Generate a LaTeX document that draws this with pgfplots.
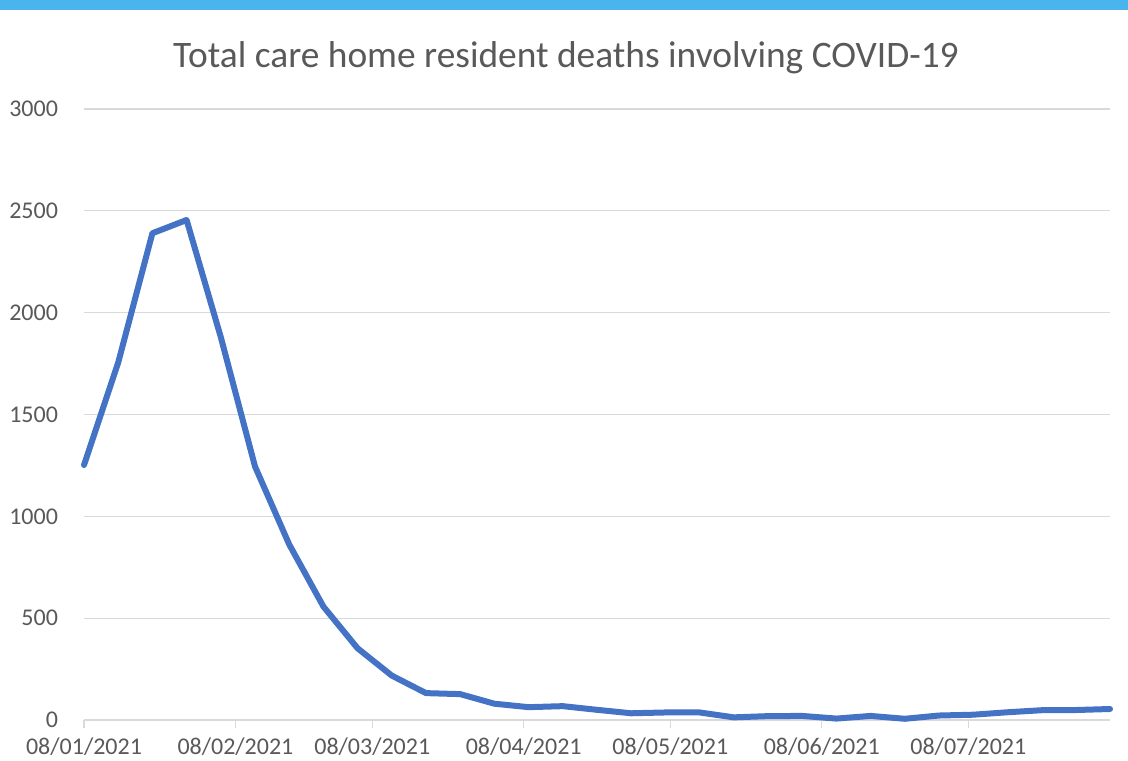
\documentclass[border=0pt]{standalone}
\usepackage{fontspec}
\setmainfont{Carlito}
\usepackage{pgfplots}
\pgfplotsset{compat=1.18}
\definecolor{band}{HTML}{4AB4EE}
\definecolor{txt}{HTML}{595959}
\definecolor{gridc}{HTML}{D9D9D9}
\definecolor{linec}{HTML}{4472C4}
\begin{document}
\begin{tikzpicture}
\useasboundingbox (0,0) rectangle (564pt,380pt);
\fill[band] (0,375pt) rectangle (564pt,380pt);
\node[text=txt, font=\fontsize{18.7}{22}\selectfont] at (283pt,351pt) {Total care home resident deaths involving COVID-19};
\begin{axis}[
  at={(42pt,20pt)}, anchor=origin,
  scale only axis, width=513pt, height=305.5pt,
  xmin=0, xmax=210, ymin=0, ymax=3000,
  xtick={0,31,59,90,120,151,181},
  xticklabels={08/01/2021,08/02/2021,08/03/2021,08/04/2021,08/05/2021,08/06/2021,08/07/2021},
  ytick={0,500,1000,1500,2000,2500,3000},
  /pgf/number format/assume math mode=true,
  scaled y ticks=false,
  yticklabel style={/pgf/number format/1000 sep={}},
  axis x line*=bottom, axis y line*=left,
  y axis line style={draw=none},
  x axis line style={draw=gridc, line width=0.6pt, -},
  ymajorgrids, grid style={draw=gridc, line width=0.6pt},
  tick align=outside, major tick length=4pt,
  xtick style={draw=gridc, line width=0.6pt},
  ytick style={draw=none},
  ticklabel style={text=txt, font=\fontsize{12}{14}\selectfont},
  xticklabel style={anchor=north, yshift=-1.5pt},
  yticklabel style={anchor=east, xshift=-5.5pt},
  clip=false,
]
\addplot[linec, line width=3pt, line join=round, line cap=round] coordinates {
(0,1252) (7,1755) (14,2390) (21,2455) (28,1880) (35,1245) (42,862) (49,557)
(56,352) (63,218) (70,132) (77,127) (84,80) (91,63) (98,68) (105,50)
(112,33) (119,37) (126,37) (133,13) (140,19) (147,20) (154,7) (161,20)
(168,6) (175,22) (182,26) (189,38) (196,48) (203,49) (210,54)
};
\end{axis}
\end{tikzpicture}
\end{document}
